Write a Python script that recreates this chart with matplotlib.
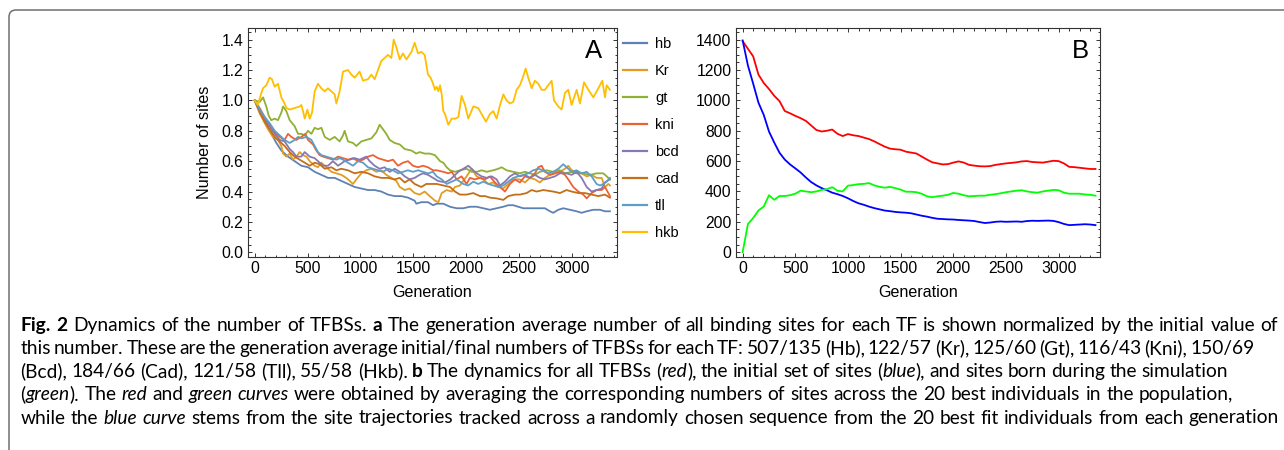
import numpy as np
import matplotlib
matplotlib.use("Agg")
import matplotlib.pyplot as plt
from matplotlib.patches import FancyBboxPatch
from matplotlib.transforms import IdentityTransform
from matplotlib.ticker import MultipleLocator, FormatStrFormatter

plt.rcParams['font.family'] = ['Liberation Sans', 'DejaVu Sans']

# ---- panel A: normalised number of sites per TF ----
tf_names = ['hb', 'Kr', 'gt', 'kni', 'bcd', 'cad', 'tll', 'hkb']
tf_colors = ['#5E81B5', '#E19C24', '#8FB032', '#EB6235', '#8778B3', '#C56E1A', '#5D9EC7', '#FFBF00']

hb_gen = [0, 63, 110, 157, 205, 252, 315, 378, 441, 504, 567, 630, 693, 756, 819, 882, 945, 1008, 1071, 1134,
          1197, 1260, 1323, 1386, 1449, 1512, 1528, 1575, 1638, 1686, 1720, 1783, 1846, 1909, 1972, 2035, 2098,
          2161, 2223, 2287, 2350, 2397, 2444, 2491, 2539, 2602, 2665, 2743, 2791, 2822, 2870, 2917, 2980, 3043,
          3090, 3138, 3201, 3264, 3311, 3358]
hb = [1.0, 0.915, 0.85, 0.78, 0.72, 0.67, 0.63, 0.60, 0.57, 0.56, 0.53, 0.51, 0.49, 0.49, 0.47, 0.45, 0.43, 0.42,
      0.41, 0.41, 0.40, 0.38, 0.37, 0.37, 0.36, 0.34, 0.32, 0.33, 0.33, 0.31, 0.32, 0.32, 0.30, 0.29, 0.29, 0.30,
      0.30, 0.29, 0.28, 0.29, 0.30, 0.31, 0.31, 0.30, 0.29, 0.29, 0.29, 0.29, 0.27, 0.26, 0.28, 0.29, 0.28, 0.27,
      0.26, 0.27, 0.28, 0.28, 0.27, 0.27]

kr_gen = [0, 47, 95, 126, 173, 220, 252, 268, 299, 331, 362, 394, 425, 457, 489, 520, 567, 598, 630, 677, 725,
          772, 819, 866, 898, 929, 961, 1008, 1055, 1103, 1150, 1197, 1244, 1292, 1339, 1371, 1418, 1465, 1512,
          1559, 1607, 1654, 1704, 1736, 1768, 1815, 1862, 1893, 1940, 2003, 2050, 2098, 2161, 2208, 2255, 2303,
          2350, 2397, 2444, 2507, 2554, 2602, 2649, 2696, 2743, 2791, 2838, 2885, 2933, 2964, 2996, 3043, 3090,
          3138, 3185, 3232, 3280, 3311, 3343, 3358]
kr = [1.0, 0.915, 0.85, 0.81, 0.76, 0.74, 0.70, 0.65, 0.63, 0.65, 0.61, 0.63, 0.66, 0.64, 0.63, 0.60, 0.57, 0.56,
      0.59, 0.56, 0.53, 0.52, 0.51, 0.49, 0.47, 0.45, 0.48, 0.52, 0.54, 0.55, 0.53, 0.54, 0.51, 0.49, 0.47, 0.43,
      0.41, 0.42, 0.39, 0.38, 0.40, 0.37, 0.34, 0.33, 0.39, 0.41, 0.40, 0.43, 0.44, 0.50, 0.55, 0.50, 0.48, 0.45,
      0.46, 0.43, 0.42, 0.45, 0.48, 0.48, 0.46, 0.49, 0.48, 0.46, 0.49, 0.51, 0.52, 0.53, 0.55, 0.57, 0.54, 0.53,
      0.52, 0.50, 0.51, 0.49, 0.49, 0.43, 0.45, 0.44]

gt_gen = [0, 47, 79, 110, 132, 157, 189, 220, 252, 268, 299, 331, 378, 410, 441, 473, 504, 536, 567, 598, 630,
          662, 709, 756, 803, 835, 850, 882, 929, 961, 1008, 1055, 1103, 1150, 1181, 1213, 1244, 1276, 1323, 1371,
          1418, 1482, 1528, 1559, 1607, 1654, 1704, 1752, 1783, 1815, 1846, 1893, 1940, 2003, 2050, 2098, 2145,
          2193, 2255, 2303, 2334, 2381, 2444, 2507, 2554, 2602, 2649, 2696, 2759, 2822, 2885, 2933, 2996, 3043,
          3106, 3169, 3232, 3295, 3327, 3358]
gt = [1.0, 0.99, 1.02, 0.96, 0.90, 0.87, 0.88, 0.87, 0.92, 0.96, 0.93, 0.87, 0.83, 0.78, 0.78, 0.77, 0.80, 0.78,
      0.82, 0.81, 0.82, 0.76, 0.74, 0.76, 0.73, 0.77, 0.80, 0.73, 0.72, 0.70, 0.73, 0.74, 0.75, 0.79, 0.84, 0.81,
      0.78, 0.74, 0.72, 0.71, 0.68, 0.67, 0.65, 0.66, 0.65, 0.65, 0.64, 0.60, 0.59, 0.56, 0.54, 0.53, 0.54, 0.55,
      0.53, 0.53, 0.54, 0.53, 0.54, 0.55, 0.56, 0.54, 0.53, 0.52, 0.53, 0.52, 0.51, 0.53, 0.54, 0.53, 0.54, 0.52,
      0.53, 0.52, 0.52, 0.51, 0.52, 0.52, 0.50, 0.48]

kni_gen = [0, 47, 95, 142, 189, 236, 283, 315, 346, 394, 441, 479, 504, 551, 583, 614, 646, 693, 740, 788, 835,
           882, 929, 977, 1024, 1071, 1118, 1166, 1213, 1260, 1307, 1355, 1402, 1449, 1496, 1544, 1591, 1638,
           1686, 1720, 1783, 1830, 1862, 1909, 1956, 2003, 2035, 2082, 2130, 2177, 2223, 2271, 2319, 2366, 2413,
           2460, 2507, 2554, 2602, 2649, 2681, 2712, 2743, 2791, 2838, 2885, 2933, 2964, 3011, 3059, 3106, 3138,
           3185, 3232, 3280, 3311, 3343, 3358]
kni = [1.0, 0.95, 0.89, 0.84, 0.79, 0.76, 0.74, 0.78, 0.76, 0.74, 0.76, 0.78, 0.74, 0.71, 0.67, 0.64, 0.63, 0.62,
       0.61, 0.63, 0.62, 0.61, 0.62, 0.60, 0.61, 0.63, 0.64, 0.62, 0.61, 0.60, 0.61, 0.57, 0.59, 0.60, 0.57, 0.56,
       0.57, 0.56, 0.54, 0.54, 0.53, 0.52, 0.53, 0.48, 0.50, 0.45, 0.49, 0.48, 0.49, 0.48, 0.50, 0.46, 0.43, 0.40,
       0.45, 0.48, 0.46, 0.50, 0.49, 0.52, 0.56, 0.57, 0.53, 0.51, 0.52, 0.53, 0.51, 0.48, 0.43, 0.40, 0.38, 0.355,
       0.39, 0.41, 0.41, 0.43, 0.39, 0.37]

bcd_gen = [0, 47, 95, 142, 189, 236, 283, 331, 362, 394, 441, 473, 520, 567, 614, 646, 693, 740, 788, 850, 898,
           945, 992, 1024, 1055, 1087, 1134, 1181, 1229, 1276, 1323, 1371, 1418, 1465, 1512, 1559, 1591, 1638,
           1686, 1733, 1800, 1850, 1925, 1972, 2019, 2050, 2098, 2145, 2193, 2240, 2287, 2319, 2366, 2413, 2460,
           2507, 2554, 2602, 2649, 2696, 2743, 2791, 2838, 2885, 2948, 2996, 3043, 3090, 3138, 3185, 3232, 3280,
           3311, 3343, 3358]
bcd = [1.0, 0.94, 0.88, 0.83, 0.78, 0.74, 0.73, 0.68, 0.66, 0.63, 0.63, 0.66, 0.63, 0.62, 0.59, 0.57, 0.57, 0.60,
       0.57, 0.60, 0.61, 0.62, 0.61, 0.62, 0.63, 0.60, 0.57, 0.55, 0.56, 0.53, 0.55, 0.53, 0.50, 0.48, 0.49, 0.51,
       0.52, 0.51, 0.49, 0.47, 0.46, 0.48, 0.53, 0.55, 0.57, 0.55, 0.52, 0.50, 0.49, 0.50, 0.48, 0.44, 0.465, 0.50,
       0.52, 0.50, 0.51, 0.49, 0.51, 0.49, 0.48, 0.49, 0.50, 0.52, 0.52, 0.51, 0.53, 0.49, 0.43, 0.40, 0.41, 0.42,
       0.46, 0.475, 0.48]

cad_gen = [0, 47, 95, 142, 189, 236, 283, 331, 378, 425, 473, 520, 567, 614, 662, 725, 772, 819, 882, 945, 1008,
           1071, 1134, 1197, 1260, 1323, 1371, 1418, 1465, 1512, 1575, 1622, 1670, 1720, 1783, 1846, 1893, 1940,
           2003, 2066, 2130, 2177, 2223, 2287, 2350, 2397, 2460, 2507, 2570, 2618, 2665, 2728, 2775, 2822, 2885,
           2948, 2996, 3059, 3122, 3185, 3248, 3311, 3358]
cad = [1.0, 0.925, 0.86, 0.81, 0.76, 0.73, 0.70, 0.66, 0.63, 0.61, 0.59, 0.57, 0.59, 0.58, 0.55, 0.56, 0.54, 0.55,
       0.54, 0.52, 0.53, 0.52, 0.50, 0.49, 0.49, 0.48, 0.49, 0.46, 0.48, 0.45, 0.43, 0.45, 0.45, 0.45, 0.44, 0.43,
       0.40, 0.38, 0.38, 0.39, 0.37, 0.37, 0.36, 0.355, 0.345, 0.37, 0.38, 0.38, 0.39, 0.41, 0.40, 0.41, 0.405,
       0.40, 0.39, 0.41, 0.40, 0.39, 0.39, 0.38, 0.37, 0.38, 0.36]

tll_gen = [0, 47, 95, 142, 189, 236, 283, 331, 378, 410, 441, 489, 536, 567, 598, 630, 677, 725, 772, 803, 835,
           882, 929, 977, 1024, 1071, 1118, 1166, 1213, 1260, 1307, 1355, 1402, 1449, 1496, 1544, 1591, 1638,
           1686, 1720, 1768, 1815, 1862, 1909, 1972, 2019, 2066, 2113, 2161, 2208, 2255, 2303, 2350, 2397, 2444,
           2491, 2539, 2586, 2633, 2681, 2728, 2775, 2822, 2870, 2917, 2948, 2996, 3043, 3090, 3138, 3185, 3232,
           3264, 3295, 3327, 3358]
tll = [1.0, 0.94, 0.89, 0.85, 0.80, 0.77, 0.74, 0.72, 0.74, 0.76, 0.75, 0.76, 0.74, 0.70, 0.66, 0.64, 0.63, 0.62,
       0.61, 0.62, 0.61, 0.59, 0.57, 0.60, 0.59, 0.56, 0.55, 0.54, 0.53, 0.55, 0.54, 0.52, 0.53, 0.54, 0.53, 0.54,
       0.53, 0.52, 0.53, 0.50, 0.48, 0.45, 0.465, 0.48, 0.45, 0.44, 0.465, 0.45, 0.465, 0.45, 0.44, 0.43, 0.44,
       0.465, 0.49, 0.50, 0.51, 0.52, 0.54, 0.55, 0.54, 0.52, 0.53, 0.55, 0.58, 0.56, 0.53, 0.54, 0.52, 0.53, 0.50,
       0.45, 0.44, 0.45, 0.465, 0.49]

hkb_gen = [0, 31, 63, 79, 110, 141, 163, 189, 220, 252, 283, 299, 331, 378, 425, 441, 457, 473, 498, 520, 542,
           567, 598, 630, 662, 693, 725, 756, 772, 803, 835, 882, 914, 945, 992, 1024, 1071, 1103, 1134, 1197,
           1229, 1260, 1292, 1314, 1339, 1371, 1402, 1434, 1482, 1512, 1544, 1575, 1607, 1638, 1663, 1686, 1704,
           1720, 1736, 1752, 1768, 1783, 1799, 1830, 1862, 1893, 1925, 1956, 1988, 2019, 2066, 2113, 2145, 2186,
           2223, 2255, 2287, 2319, 2350, 2381, 2413, 2444, 2476, 2507, 2539, 2561, 2586, 2618, 2649, 2681, 2712,
           2743, 2775, 2807, 2829, 2870, 2901, 2933, 2964, 2996, 3043, 3075, 3113, 3154, 3201, 3248, 3286, 3311,
           3327, 3358]
hkb = [1.0, 0.97, 1.05, 1.08, 1.10, 1.15, 1.14, 1.09, 1.11, 1.02, 0.98, 0.95, 0.94, 0.95, 0.96, 0.97, 0.93, 0.88,
       0.94, 0.88, 0.92, 1.06, 1.11, 1.08, 1.06, 1.08, 1.06, 1.04, 0.98, 1.06, 1.19, 1.20, 1.17, 1.15, 1.19, 1.13,
       1.14, 1.17, 1.14, 1.26, 1.28, 1.30, 1.28, 1.40, 1.35, 1.27, 1.31, 1.27, 1.32, 1.38, 1.31, 1.32, 1.30, 1.17,
       1.15, 1.11, 1.07, 1.09, 1.06, 1.10, 1.04, 0.93, 0.91, 0.84, 0.88, 0.88, 0.89, 1.03, 0.97, 0.88, 0.96, 0.95,
       0.91, 0.86, 0.91, 0.93, 0.88, 0.97, 1.04, 1.00, 0.98, 0.99, 1.07, 1.10, 1.16, 1.21, 1.15, 1.08, 1.13, 1.11,
       1.07, 1.07, 1.10, 1.13, 1.00, 0.96, 0.94, 1.05, 1.07, 0.97, 1.07, 0.98, 1.12, 1.07, 1.02, 1.08, 1.13, 1.02,
       1.10, 1.07]

tf_series = [(hb_gen, hb), (kr_gen, kr), (gt_gen, gt), (kni_gen, kni),
             (bcd_gen, bcd), (cad_gen, cad), (tll_gen, tll), (hkb_gen, hkb)]

# ---- panel B: absolute numbers of sites ----
gen_b = list(range(0, 3351, 50))
all_sites = [1390, 1340, 1290, 1170, 1115, 1075, 1030, 995, 930, 915, 898, 883, 865, 835, 805, 795, 800, 808,
             780, 765, 778, 770, 765, 755, 745, 730, 712, 695, 682, 678, 675, 662, 656, 650, 630, 610, 592, 585,
             578, 580, 590, 598, 590, 575, 570, 566, 565, 567, 575, 580, 585, 588, 592, 598, 600, 594, 592, 590,
             596, 602, 600, 585, 562, 560, 556, 552, 548, 548]
initial_sites = [1395, 1230, 1110, 985, 905, 795, 722, 655, 610, 578, 552, 525, 492, 462, 440, 422, 408, 392,
                 382, 370, 355, 337, 322, 312, 300, 290, 282, 274, 270, 265, 262, 260, 256, 248, 240, 234, 226,
                 220, 218, 216, 215, 212, 210, 208, 205, 198, 192, 195, 200, 202, 200, 201, 202, 200, 205, 207,
                 206, 207, 208, 206, 198, 186, 178, 180, 182, 184, 182, 178]
born_sites = [0, 185, 225, 275, 300, 375, 345, 370, 370, 375, 385, 405, 400, 395, 400, 410, 415, 428, 405, 400,
              438, 442, 448, 450, 455, 440, 430, 425, 430, 422, 412, 398, 398, 395, 385, 368, 362, 368, 372, 378,
              390, 385, 375, 368, 370, 372, 372, 378, 382, 388, 395, 400, 405, 408, 400, 395, 392, 400, 405, 410,
              408, 392, 385, 385, 385, 380, 378, 372]

W, H = 1284, 450
fig = plt.figure(figsize=(W / 100, H / 100), dpi=100)


def px_axes(left, top, right, bottom):
    return fig.add_axes([left / W, 1 - bottom / H, (right - left) / W, (bottom - top) / H])


def frame_style(ax):
    for s in ax.spines.values():
        s.set_color('#333333')
        s.set_linewidth(0.8)
    ax.tick_params(which='both', direction='in', top=True, right=True, colors='#333333',
                   labelcolor='black', labelsize=11.3, width=0.7)
    ax.tick_params(which='major', length=3.2)
    ax.tick_params(which='minor', length=1.8)
    ax.tick_params(axis='y', pad=3)
    ax.tick_params(axis='x', pad=3.3)
    ax.xaxis.set_major_locator(MultipleLocator(500))
    ax.xaxis.set_minor_locator(MultipleLocator(100))


axA = px_axes(247.7, 28.3, 616.5, 256.7)
for (g, v), name, c in zip(tf_series, tf_names, tf_colors):
    axA.plot(g, v, color=c, lw=1.3, label=name)
axA.set_xlim(-66, 3420)
axA.set_ylim(-0.029, 1.475)
frame_style(axA)
axA.yaxis.set_major_locator(MultipleLocator(0.2))
axA.yaxis.set_minor_locator(MultipleLocator(0.05))
axA.yaxis.set_major_formatter(FormatStrFormatter('%.1f'))
axA.set_xlabel('Generation', fontsize=11.6)
axA.set_ylabel('Number of sites', fontsize=11.6)
axA.xaxis.set_label_coords(0.5, -0.158)
axA.xaxis.label.set_va('center')
axA.yaxis.set_label_coords(-0.116, 0.5)
axA.yaxis.label.set_va('center')
axA.text(594, H - 51, 'A', transform=IdentityTransform(), fontsize=18.5, ha='center', va='center')

leg = axA.legend(loc='upper left', bbox_to_anchor=(623.3 / W, 1 - 37.2 / H), bbox_transform=fig.transFigure,
                 frameon=False, fontsize=10.5, handlelength=1.6, handletextpad=0.57, labelspacing=0.89,
                 borderpad=0, borderaxespad=0)
for ln in leg.get_lines():
    ln.set_linewidth(1.6)

axB = px_axes(735.7, 28.3, 1100, 256.7)
axB.plot(gen_b, all_sites, color='#FF0000', lw=1.3)
axB.plot(gen_b, initial_sites, color='#0000FF', lw=1.3)
axB.plot(gen_b, born_sites, color='#00FF00', lw=1.3)
axB.set_xlim(-66, 3393)
axB.set_ylim(-30, 1475)
frame_style(axB)
axB.yaxis.set_major_locator(MultipleLocator(200))
axB.yaxis.set_minor_locator(MultipleLocator(50))
axB.set_xlabel('Generation', fontsize=11.6)
axB.xaxis.set_label_coords(0.5, -0.158)
axB.xaxis.label.set_va('center')
axB.text(1080.5, H - 51.5, 'B', transform=IdentityTransform(), fontsize=18.5, ha='center', va='center')

# rounded box outline around the figure block
box = FancyBboxPatch((9, -30), 1320, H - 10 + 30, boxstyle='round,pad=0,rounding_size=7',
                     transform=IdentityTransform(), fill=False, edgecolor='#707070', lw=1.1)
fig.add_artist(box)

# ---- caption: words placed one by one so bold/italic runs share a baseline ----
cap_font = ['Lato', 'DejaVu Sans']
caption = [
    [('Fig. 2', 'b'), (' Dynamics of the number of TFBSs. ', 'n'), ('a', 'b'),
     (' The generation average number of all binding sites for each TF is shown normalized by the initial value of', 'n')],
    [('this number. These are the generation average initial/final numbers of TFBSs for each TF: 507/135 (Hb), '
      '122/57 (Kr), 125/60 (Gt), 116/43 (Kni), 150/69', 'n')],
    [('(Bcd), 184/66 (Cad), 121/58 (Tll), 55/58 (Hkb). ', 'n'), ('b', 'b'),
     (' The dynamics for all TFBSs (', 'n'), ('red', 'i'), ('), the initial set of sites (', 'n'),
     ('blue', 'i'), ('), and sites born during the simulation', 'n')],
    [('(', 'n'), ('green', 'i'), ('). The ', 'n'), ('red', 'i'), (' and ', 'n'), ('green curves', 'i'),
     (' were obtained by averaging the corresponding numbers of sites across the 20 best individuals in the population,', 'n')],
    [('while the ', 'n'), ('blue curve', 'i'),
     (' stems from the site trajectories tracked across a randomly chosen sequence from the 20 best fit individuals from each generation', 'n')],
]
line_ends = [1278, 1247, 1228, 1233, 1279]
baselines = [330.7, 353.9, 377.1, 400.3, 423.5]
cap_left = 20.5
styles = {'n': dict(), 'b': dict(fontweight='bold'), 'i': dict(fontstyle='italic')}
renderer = fig.canvas.get_renderer()


def run_width(s, size, st):
    t = fig.text(0, 0, '|' + s + '|', fontsize=size, family=cap_font, **styles[st])
    t0 = fig.text(0, 0, '||', fontsize=size, family=cap_font, **styles[st])
    w = t.get_window_extent(renderer).width - t0.get_window_extent(renderer).width
    t.remove()
    t0.remove()
    return w


def split_words(runs):
    # list of (word, style, gap_before)
    out = []
    pending_gap = False
    for s, st in runs:
        parts = s.split(' ')
        for k, p in enumerate(parts):
            if k > 0:
                pending_gap = True
            if p:
                out.append((p, st, pending_gap and len(out) > 0))
                pending_gap = False
    return out


natural_first = sum(run_width(s, 13, st) for s, st in caption[0])
cap_size = 0.985 * 13 * (line_ends[0] - cap_left) / natural_first
space = run_width(' ', cap_size, 'n')

for runs, end, yb in zip(caption, line_ends, baselines):
    words = split_words(runs)
    widths = [run_width(w, cap_size, st) for w, st, _ in words]
    n_gaps = sum(1 for _, _, gap in words if gap)
    gap = np.clip((end - cap_left - sum(widths)) / n_gaps, 0.6 * space, 1.35 * space)
    x = cap_left
    for (w, st, has_gap), wd in zip(words, widths):
        if has_gap:
            x += gap
        fig.text(x, H - yb, w, transform=IdentityTransform(), fontsize=cap_size, family=cap_font,
                 va='baseline', ha='left', **styles[st])
        x += wd

fig.savefig('out.png', dpi=100)
